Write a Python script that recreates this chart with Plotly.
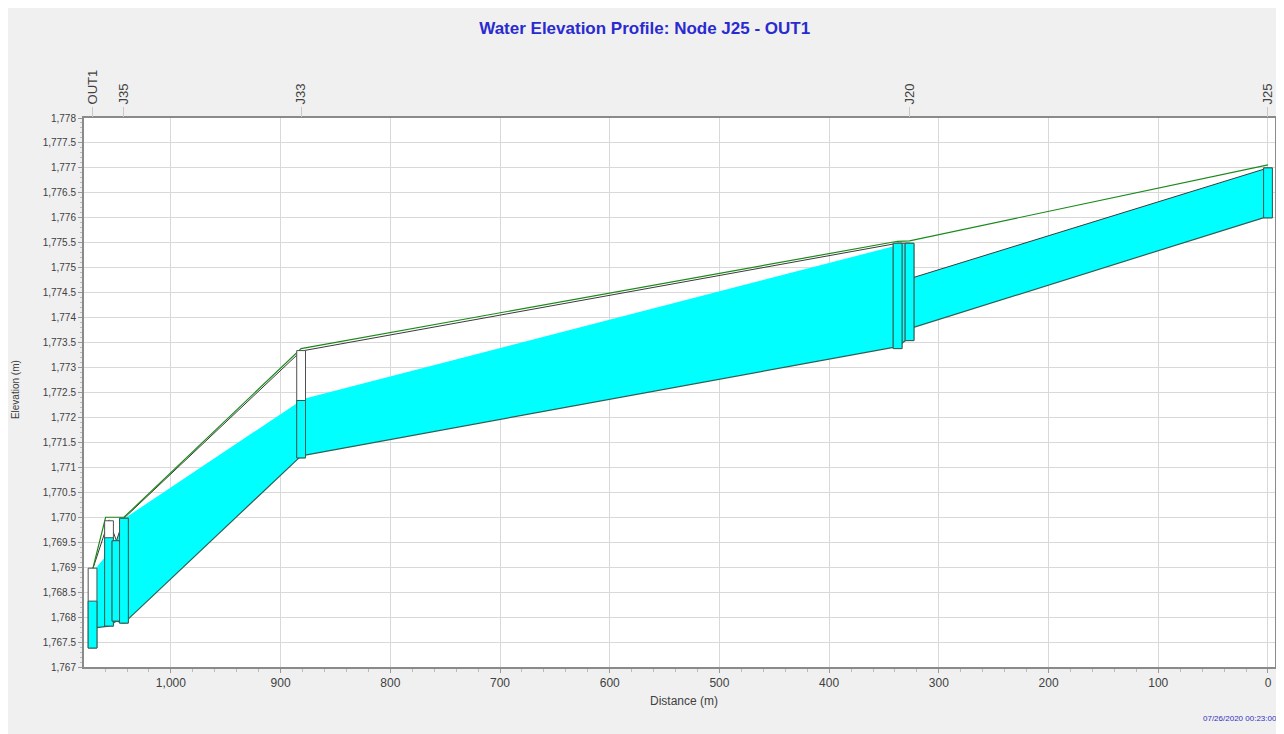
import plotly.graph_objects as go

# ---------------- data ----------------
title_text = "Water Elevation Profile: Node J25 - OUT1"
timestamp_text = "07/26/2020 00:23:00"

# labelled nodes along the top axis
label_names = ["OUT1", "J35", "J33", "J20", "J25"]
label_dist = [1071.4, 1042.8, 881.3, 326.7, 0.0]

# node structures (distance from J25, invert, top of structure, water level)
node_dist = [1071.4, 1056.4, 1049.6, 1042.8, 881.3, 337.6, 326.7, 0.0]
node_invert = [1767.38, 1767.82, 1767.92, 1767.88, 1771.19, 1773.38, 1773.54, 1776.00]
node_top = [1768.98, 1769.93, 1769.53, 1769.98, 1773.34, 1775.49, 1775.49, 1777.00]
node_water = [1768.32, 1769.59, 1769.53, 1769.98, 1772.34, 1775.49, 1775.49, 1777.00]

# conduits between consecutive nodes
link_start = [1071.4, 1056.4, 1049.6, 1042.8, 881.3, 337.6, 326.7]
link_end = [1056.4, 1049.6, 1042.8, 881.3, 337.6, 326.7, 0.0]
link_inv_start = [1767.78, 1767.82, 1767.92, 1767.88, 1771.23, 1773.42, 1773.78]
link_inv_end = [1767.82, 1767.92, 1767.88, 1771.23, 1773.42, 1773.60, 1776.03]
link_crown_start = [1768.95, 1769.93, 1769.53, 1769.98, 1773.33, 1775.49, 1774.78]
link_crown_end = [1769.95, 1769.53, 1769.98, 1773.33, 1775.49, 1775.49, 1777.00]
link_wl_start = [1768.90, 1769.59, 1769.53, 1769.97, 1772.36, 1775.45, 1774.78]
link_wl_end = [1769.30, 1769.53, 1769.97, 1772.34, 1775.45, 1775.49, 1777.00]

# ground (rim) line
ground_dist = [1071.4, 1059.5, 1042.8, 881.3, 337.6, 326.7, 0.0]
ground_elev = [1768.95, 1770.00, 1770.00, 1773.38, 1775.53, 1775.54, 1777.06]

# axis ticks
x_ticks = [0, 100, 200, 300, 400, 500, 600, 700, 800, 900, 1000]
y_ticks = [1767 + 0.5 * i for i in range(23)]
y_ticktext = ["1,767", "1,767.5", "1,768", "1,768.5", "1,769", "1,769.5", "1,770",
              "1,770.5", "1,771", "1,771.5", "1,772", "1,772.5", "1,773", "1,773.5",
              "1,774", "1,774.5", "1,775", "1,775.5", "1,776", "1,776.5", "1,777",
              "1,777.5", "1,778"]

# ---------------- style ----------------
X_RANGE = [1079.2, -6.4]
Y_RANGE = [1767, 1778]
HALF_W = 4.0
CYAN = "#00ffff"
EDGE = "#2f5f55"
GROUND = "#1a8a1a"

W, H = 1276, 726          # page has an 8px body margin
OFF = 8
L, R, T, B = 76, 7, 110, 67
pw, ph = W - L - R, H - T - B

fig = go.Figure()

# conduits: water fill
for i in range(len(link_start)):
    fig.add_trace(go.Scatter(
        x=[link_start[i], link_end[i], link_end[i], link_start[i], link_start[i]],
        y=[link_inv_start[i], link_inv_end[i], link_wl_end[i], link_wl_start[i], link_inv_start[i]],
        fill="toself", fillcolor=CYAN, mode="lines", line=dict(width=0, color=CYAN),
        hoverinfo="skip", showlegend=False))
    fig.add_trace(go.Scatter(
        x=[link_start[i], link_end[i]], y=[link_inv_start[i], link_inv_end[i]],
        mode="lines", line=dict(color=EDGE, width=1.2), hoverinfo="skip", showlegend=False))
    fig.add_trace(go.Scatter(
        x=[link_start[i], link_end[i]], y=[link_crown_start[i], link_crown_end[i]],
        mode="lines", line=dict(color="#3a3a3a", width=1), hoverinfo="skip", showlegend=False))

# ground line
fig.add_trace(go.Scatter(x=ground_dist, y=ground_elev, mode="lines",
                         line=dict(color=GROUND, width=1.2), hoverinfo="skip", showlegend=False))

# node structures
for i in range(len(node_dist)):
    x0, x1 = node_dist[i] + HALF_W, node_dist[i] - HALF_W
    fig.add_trace(go.Scatter(
        x=[x0, x1, x1, x0, x0],
        y=[node_invert[i], node_invert[i], node_top[i], node_top[i], node_invert[i]],
        fill="toself", fillcolor="white", mode="lines", line=dict(color="#505050", width=1),
        hoverinfo="skip", showlegend=False))
    fig.add_trace(go.Scatter(
        x=[x0, x1, x1, x0, x0],
        y=[node_invert[i], node_invert[i], node_water[i], node_water[i], node_invert[i]],
        fill="toself", fillcolor=CYAN, mode="lines", line=dict(color=EDGE, width=1),
        hoverinfo="skip", showlegend=False))

# dummy trace for top axis
fig.add_trace(go.Scatter(x=label_dist, y=[None] * len(label_dist), xaxis="x2",
                         mode="markers", hoverinfo="skip", showlegend=False))


def ann(text, sx, sy, size, color, xanchor="center", **kw):
    """annotation placed by screen pixel position"""
    return dict(text=text, xref="paper", yref="paper",
                x=(sx - OFF - L) / pw, y=(H - B - (sy - OFF)) / ph,
                xanchor=xanchor, yanchor="middle",
                showarrow=False, font=dict(size=size, color=color), **kw)


fig.update_layout(
    width=W, height=H,
    margin=dict(l=L, r=R, t=T, b=B),
    paper_bgcolor="#f0f0f0", plot_bgcolor="white",
    font=dict(family="Liberation Sans, Arial", size=11, color="#404040"),
    title=dict(text="<b>" + title_text + "</b>", x=0.499, xanchor="center",
               y=1 - 20 / H, yanchor="middle",
               font=dict(size=17, color="#2a2ad0", family="Liberation Sans, Arial")),
    xaxis=dict(range=X_RANGE, tickvals=x_ticks, tickformat=",", showgrid=True,
               gridcolor="#d9d9d9", gridwidth=1, zeroline=False, showline=True,
               linecolor="#8a8a8a", linewidth=2, mirror=True, ticks="outside",
               ticklen=4, tickcolor="#999", tickfont=dict(size=12, color="#404040"),
               minor=dict(dtick=20, ticks="outside", ticklen=3, tickcolor="#bbb",
                          showgrid=False)),
    xaxis2=dict(range=X_RANGE, overlaying="x", side="top", tickvals=label_dist,
                ticktext=label_names, tickangle=-90, showgrid=False, zeroline=False,
                showline=False, ticks="outside", ticklen=10, tickcolor="#c8c8c8",
                tickfont=dict(size=13, color="#404040")),
    yaxis=dict(range=Y_RANGE, tickvals=y_ticks, ticktext=y_ticktext, showgrid=True,
               gridcolor="#d9d9d9", gridwidth=1, zeroline=False, showline=True,
               linecolor="#8a8a8a", linewidth=2, mirror=True, ticks="outside",
               ticklen=4, tickcolor="#999", tickfont=dict(size=10, color="#404040"),
               minor=dict(dtick=0.1, ticks="outside", ticklen=2, tickcolor="#bbb",
                          showgrid=False)),
    annotations=[
        ann("Distance (m)", 685, 701, 12, "#404040"),
        ann("Elevation (m)", 15, 390, 10, "#404040", textangle=-90),
        ann(timestamp_text, 1281, 718, 8, "#3030c0", xanchor="right"),
    ],
)

fig.write_html("out.html")
